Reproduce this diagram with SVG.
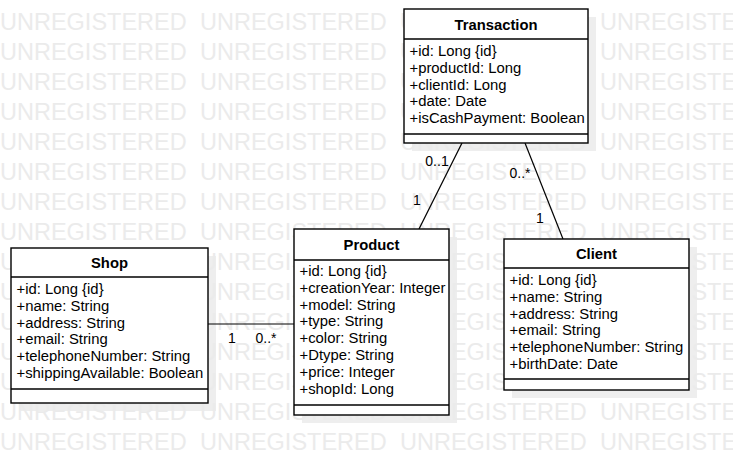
<svg xmlns="http://www.w3.org/2000/svg" xmlns:xlink="http://www.w3.org/1999/xlink" width="733" height="460" viewBox="0 0 733 460">
<style>
.wm{font-family:"Liberation Sans",Arial,sans-serif;font-size:23.5px;fill:#ebebeb}
.sh{fill:#eeeeee}
.box{fill:#fff;stroke:#000;stroke-width:1.4}
.div{stroke:#000;stroke-width:1.4}
.hd{font-family:"Liberation Sans",Arial,sans-serif;font-size:14.8px;font-weight:bold;text-anchor:middle;fill:#000}
.at{font-family:"Liberation Sans",Arial,sans-serif;font-size:14.85px;fill:#000}
.lb{font-family:"Liberation Sans",Arial,sans-serif;font-size:14px;fill:#000;text-anchor:middle}
.cn{stroke:#000;stroke-width:1.2;fill:none}
</style>
<defs>
<g id="wmrow">
<text class="wm" x="0" y="0">UNREGISTERED</text>
<text class="wm" x="200" y="0">UNREGISTERED</text>
<text class="wm" x="400" y="0">UNREGISTERED</text>
<text class="wm" x="600" y="0">UNREGISTERED</text>
</g>
</defs>
<rect width="733" height="460" fill="#fff"/>
<g id="shadows">
<rect class="sh" x="412" y="17" width="184" height="134"/>
<rect class="sh" x="19" y="256" width="197" height="155"/>
<rect class="sh" x="302" y="237" width="155" height="186"/>
<rect class="sh" x="512" y="247" width="185" height="151"/>
</g>
<g id="watermark">
<use xlink:href="#wmrow" y="29.5"/>
<use xlink:href="#wmrow" y="59.5"/>
<use xlink:href="#wmrow" y="89.5"/>
<use xlink:href="#wmrow" y="119.5"/>
<use xlink:href="#wmrow" y="149.5"/>
<use xlink:href="#wmrow" y="179.5"/>
<use xlink:href="#wmrow" y="209.5"/>
<use xlink:href="#wmrow" y="239.5"/>
<use xlink:href="#wmrow" y="269.5"/>
<use xlink:href="#wmrow" y="299.5"/>
<use xlink:href="#wmrow" y="329.5"/>
<use xlink:href="#wmrow" y="359.5"/>
<use xlink:href="#wmrow" y="389.5"/>
<use xlink:href="#wmrow" y="419.5"/>
<use xlink:href="#wmrow" y="449.5"/>
</g>
<g id="connectors">
<line class="cn" x1="462" y1="143" x2="419" y2="229"/>
<line class="cn" x1="525" y1="143" x2="563" y2="239"/>
<line class="cn" x1="208" y1="324" x2="294" y2="324"/>
<text class="lb" x="437" y="166">0..1</text>
<text class="lb" x="417" y="205">1</text>
<text class="lb" x="520" y="178">0..*</text>
<text class="lb" x="540" y="223">1</text>
<text class="lb" x="232" y="343">1</text>
<text class="lb" x="266" y="343">0..*</text>
</g>
<g id="Transaction">
<rect class="box" x="404" y="9" width="184" height="134"/>
<line class="div" x1="404" y1="39" x2="588" y2="39"/>
<line class="div" x1="404" y1="134" x2="588" y2="134"/>
<text class="hd" x="496" y="29.5">Transaction</text>
<text class="at" x="409.5" y="56">+id: Long {id}</text>
<text class="at" x="409.5" y="72.8">+productId: Long</text>
<text class="at" x="409.5" y="89.6">+clientId: Long</text>
<text class="at" x="409.5" y="106.4">+date: Date</text>
<text class="at" x="409.5" y="123.2">+isCashPayment: Boolean</text>
</g>
<g id="Shop">
<rect class="box" x="11" y="248" width="197" height="155"/>
<line class="div" x1="11" y1="277" x2="208" y2="277"/>
<line class="div" x1="11" y1="389" x2="208" y2="389"/>
<text class="hd" x="109.5" y="267.5">Shop</text>
<text class="at" x="16.5" y="294">+id: Long {id}</text>
<text class="at" x="16.5" y="310.8">+name: String</text>
<text class="at" x="16.5" y="327.6">+address: String</text>
<text class="at" x="16.5" y="344.4">+email: String</text>
<text class="at" x="16.5" y="361.2">+telephoneNumber: String</text>
<text class="at" x="16.5" y="378">+shippingAvailable: Boolean</text>
</g>
<g id="Product">
<rect class="box" x="294" y="229" width="155" height="186"/>
<line class="div" x1="294" y1="260" x2="449" y2="260"/>
<line class="div" x1="294" y1="405" x2="449" y2="405"/>
<text class="hd" x="371.5" y="249.5">Product</text>
<text class="at" x="299.5" y="276">+id: Long {id}</text>
<text class="at" x="299.5" y="292.8">+creationYear: Integer</text>
<text class="at" x="299.5" y="309.6">+model: String</text>
<text class="at" x="299.5" y="326.4">+type: String</text>
<text class="at" x="299.5" y="343.2">+color: String</text>
<text class="at" x="299.5" y="360">+Dtype: String</text>
<text class="at" x="299.5" y="376.8">+price: Integer</text>
<text class="at" x="299.5" y="393.6">+shopId: Long</text>
</g>
<g id="Client">
<rect class="box" x="504" y="239" width="185" height="151"/>
<line class="div" x1="504" y1="268" x2="689" y2="268"/>
<line class="div" x1="504" y1="379" x2="689" y2="379"/>
<text class="hd" x="596.5" y="258.5">Client</text>
<text class="at" x="509.5" y="285">+id: Long {id}</text>
<text class="at" x="509.5" y="301.8">+name: String</text>
<text class="at" x="509.5" y="318.6">+address: String</text>
<text class="at" x="509.5" y="335.4">+email: String</text>
<text class="at" x="509.5" y="352.2">+telephoneNumber: String</text>
<text class="at" x="509.5" y="369">+birthDate: Date</text>
</g>
</svg>
